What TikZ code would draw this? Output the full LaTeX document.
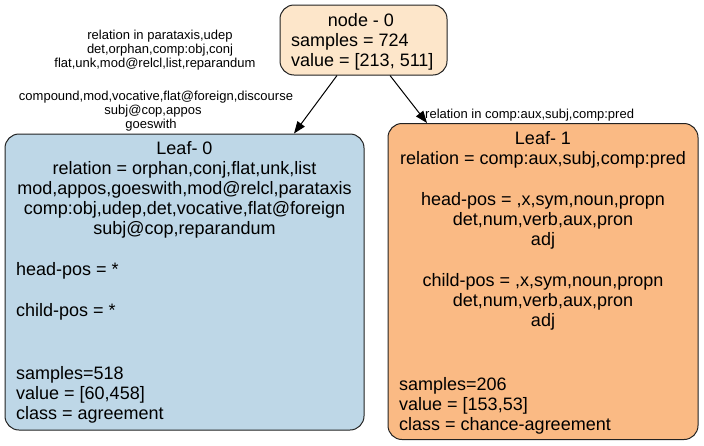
\documentclass[tikz,border=0pt]{standalone}
\usepackage{fontspec}
\setmainfont{Liberation Sans}
\usetikzlibrary{arrows.meta}
\definecolor{cnode}{HTML}{FDE6CA}
\definecolor{cleafa}{HTML}{BED7E7}
\definecolor{cleafb}{HTML}{FABA84}
\definecolor{cborder}{HTML}{222222}
\tikzset{
  box/.style={draw=cborder, line width=1pt, rounded corners=14pt, inner sep=0pt},
  tx/.style={inner sep=0pt, anchor=base, font=\fontsize{18}{20}\selectfont},
  txl/.style={tx, anchor=base west},
  lab/.style={inner sep=0pt, anchor=base, font=\fontsize{13}{14}\selectfont},
  labl/.style={lab, anchor=base west},
  arr/.style={line width=1pt, -{Triangle[length=12pt,width=9pt]}}
}
\begin{document}
\begin{tikzpicture}[x=1pt,y=-1pt]
\useasboundingbox[fill=white] (0,0) rectangle (704,445);
% boxes
\node[box, fill=cnode, minimum width=167pt, minimum height=70pt] (n0) at (363.5,40) {};
\node[box, fill=cleafa, minimum width=359pt, minimum height=296pt] (l0) at (184.5,282) {};
\node[box, fill=cleafb, minimum width=310pt, minimum height=316pt] (l1) at (543,281.5) {};
% connectors
\draw[arr] ([xshift=-26.5pt]n0.south) -- ([xshift=109.5pt]l0.north);
\draw[arr] ([xshift=26.5pt]n0.south) -- ([xshift=-116pt]l1.north);
% node 0 text
\node[tx] (n0a) at (361,26) {node - 0};
\node[txl] (n0b) at (291,46) {samples = 724};
\node[txl] (n0c) at (291,66) {value = [213, 511]};
% leaf 0 text
\node[tx] (l0a) at (184.5,154) {Leaf- 0};
\node[tx] (l0b) at (184.5,174) {relation = orphan,conj,flat,unk,list};
\node[tx] (l0c) at (184.5,194) {mod,appos,goeswith,mod@relcl,parataxis};
\node[tx] (l0d) at (184.5,214) {comp:obj,udep,det,vocative,flat@foreign};
\node[tx] (l0e) at (184.5,234) {subj@cop,reparandum};
\node[txl] (l0f) at (16,275) {head-pos = *};
\node[txl] (l0g) at (16,316) {child-pos = *};
\node[txl] (l0h) at (16,379) {samples=518};
\node[txl] (l0i) at (16,399) {value = [60,458]};
\node[txl] (l0j) at (16,419) {class = agreement};
% leaf 1 text
\node[tx] (l1a) at (543,144) {Leaf- 1};
\node[tx] (l1b) at (543,164) {relation = comp:aux,subj,comp:pred};
\node[tx] (l1c) at (543,205) {head-pos = ,x,sym,noun,propn};
\node[tx] (l1d) at (543,225) {det,num,verb,aux,pron};
\node[tx] (l1e) at (543,245) {adj};
\node[tx] (l1f) at (543,286) {child-pos = ,x,sym,noun,propn};
\node[tx] (l1g) at (543,306) {det,num,verb,aux,pron};
\node[tx] (l1h) at (543,326) {adj};
\node[txl] (l1i) at (399,390) {samples=206};
\node[txl] (l1j) at (399,410) {value = [153,53]};
\node[txl] (l1k) at (399,430) {class = chance-agreement};
% edge labels
\node[lab] (e0a) at (160,39) {relation in parataxis,udep};
\node[lab] (e0b) at (160,53) {det,orphan,comp:obj,conj};
\node[lab] (e0c) at (155,67) {flat,unk,mod@relcl,list,reparandum};
\node[lab] (e0d) at (156,100) {compound,mod,vocative,flat@foreign,discourse};
\node[lab] (e0e) at (153,114) {subj@cop,appos};
\node[lab] (e0f) at (151,128) {goeswith};
\node[labl] (e1a) at (425,118) {relation in comp:aux,subj,comp:pred};
\end{tikzpicture}
\end{document}
